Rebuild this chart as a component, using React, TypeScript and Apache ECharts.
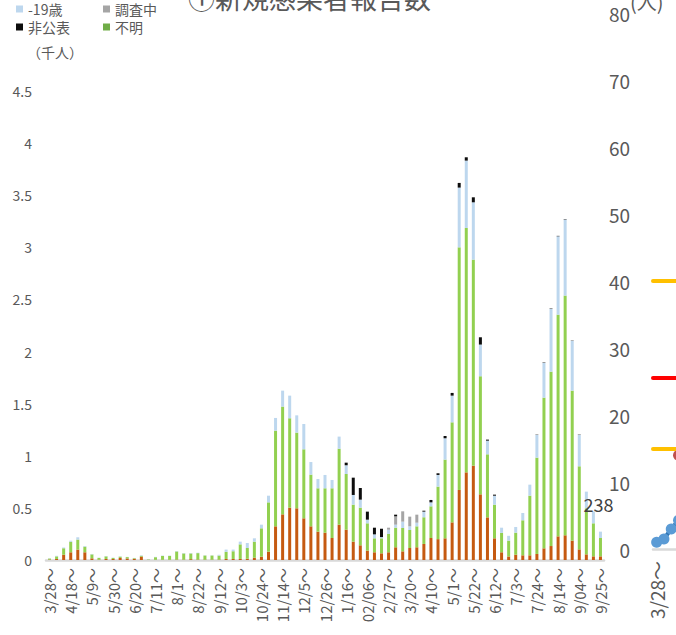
import React, { useEffect, useRef } from "react";
import * as echarts from "echarts";

const weeks = [
  "3/28", "4/4", "4/11", "4/18", "4/25", "5/2", "5/9", "5/16", "5/23", "5/30",
  "6/6", "6/13", "6/20", "6/27", "7/4", "7/11", "7/18", "7/25", "8/1", "8/8",
  "8/15", "8/22", "8/29", "9/5", "9/12", "9/19", "9/26", "10/3", "10/10", "10/17",
  "10/24", "10/31", "11/7", "11/14", "11/21", "11/28", "12/5", "12/12", "12/19", "12/26",
  "1/2", "1/9", "1/16", "1/23", "1/30", "02/06", "2/13", "2/20", "2/27", "3/6",
  "3/13", "3/20", "3/27", "4/3", "4/10", "4/17", "4/24", "5/1", "5/8", "5/15",
  "5/22", "5/29", "6/5", "6/12", "6/19", "6/26", "7/3", "7/10", "7/17", "7/24",
  "7/31", "8/7", "8/14", "8/21", "8/28", "9/04", "9/11", "9/18", "9/25",
];

// 千人 per week
const seniors = [
  0.004, 0.01, 0.05, 0.074, 0.1, 0.074, 0.016, 0.003, 0.01, 0.01,
  0.02, 0.015, 0.012, 0.032, 0.001, 0.002, 0.002, 0.002, 0.004, 0.003,
  0.008, 0.004, 0.003, 0.003, 0.003, 0.01, 0.01, 0.01, 0.012, 0.022,
  0.032, 0.08, 0.323, 0.438, 0.502, 0.496, 0.4, 0.323, 0.272, 0.262,
  0.211, 0.339, 0.291, 0.176, 0.141, 0.09, 0.074, 0.064, 0.074, 0.122,
  0.083, 0.115, 0.122, 0.154, 0.211, 0.2, 0.208, 0.361, 0.672, 0.841,
  0.905, 0.63, 0.409, 0.208, 0.074, 0.034, 0.051, 0.045, 0.045, 0.058,
  0.112, 0.134, 0.227, 0.237, 0.186, 0.102, 0.054, 0.035, 0.035,
];
const adults = [
  0.01, 0.025, 0.062, 0.101, 0.096, 0.054, 0.038, 0.017, 0.025, 0.01,
  0.012, 0.013, 0.006, 0.008, 0.004, 0.025, 0.037, 0.037, 0.078, 0.06,
  0.055, 0.062, 0.04, 0.04, 0.039, 0.068, 0.074, 0.14, 0.103, 0.154,
  0.272, 0.473, 0.918, 1.034, 0.858, 0.726, 0.662, 0.496, 0.416, 0.426,
  0.477, 0.729, 0.534, 0.355, 0.361, 0.262, 0.134, 0.144, 0.176, 0.188,
  0.224, 0.173, 0.201, 0.256, 0.304, 0.504, 0.755, 0.96, 2.328, 2.345,
  1.977, 1.133, 0.605, 0.323, 0.186, 0.152, 0.211, 0.336, 0.572, 0.924,
  1.446, 1.673, 2.127, 2.3, 1.439, 0.797, 0.442, 0.317, 0.176,
];
const under19 = [
  0.002, 0.005, 0.008, 0.01, 0.022, 0.006, 0.004, 0.002, 0.003, 0.002,
  0.003, 0.002, 0.002, 0.005, 0.001, 0.003, 0.003, 0.003, 0.004, 0.004,
  0.004, 0.004, 0.002, 0.002, 0.008, 0.022, 0.016, 0.026, 0.048, 0.032,
  0.035, 0.064, 0.122, 0.153, 0.217, 0.166, 0.243, 0.121, 0.089, 0.128,
  0.08, 0.116, 0.084, 0.093, 0.077, 0.035, 0.038, 0.012, 0.041, 0.029,
  0.061, 0.035, 0.035, 0.054, 0.038, 0.112, 0.205, 0.256, 0.573, 0.646,
  0.55, 0.304, 0.131, 0.086, 0.05, 0.046, 0.055, 0.07, 0.106, 0.218,
  0.333, 0.602, 0.752, 0.729, 0.477, 0.301, 0.16, 0.115, 0.061,
];
const investigating = [
  0, 0, 0, 0, 0, 0, 0, 0, 0, 0,
  0, 0, 0, 0, 0, 0, 0, 0, 0, 0,
  0, 0, 0, 0, 0, 0, 0, 0, 0, 0,
  0, 0, 0, 0, 0, 0, 0, 0, 0, 0,
  0, 0, 0, 0, 0, 0, 0, 0, 0.019, 0.08,
  0.099, 0.093, 0.077, 0, 0, 0, 0, 0, 0, 0,
  0, 0, 0, 0, 0, 0, 0, 0, 0, 0,
  0, 0, 0, 0, 0, 0, 0, 0, 0,
];
const undisclosed = [
  0, 0, 0, 0, 0, 0, 0, 0, 0, 0,
  0, 0, 0, 0, 0, 0, 0, 0, 0, 0,
  0, 0, 0, 0, 0, 0, 0, 0, 0, 0,
  0, 0, 0, 0, 0, 0, 0, 0, 0, 0,
  0, 0, 0.025, 0.166, 0.112, 0.077, 0.064, 0.08, 0, 0.016,
  0, 0, 0, 0.009, 0.023, 0.016, 0.022, 0.026, 0.045, 0.032,
  0.048, 0.07, 0.01, 0.01, 0, 0, 0, 0, 0, 0.003,
  0.004, 0.004, 0.004, 0.004, 0.003, 0.003, 0, 0, 0,
];

// right-hand (partially visible) chart, 人
const rightBlue = [1.0, 1.5, 3.0, 4.3];
const rightRed = [null, null, null, 14];
const thresholdValues = [40, 25.5, 15];
const thresholdColors = ["#FFC000", "#FF0000", "#FFC000"];

const LABEL_INDEX = 77;
const LABEL_TEXT = "238";

export default function App() {
  const ref = useRef<HTMLDivElement>(null);

  useEffect(() => {
    const chart = echarts.init(ref.current!, null, { renderer: "svg" });
    const font = '"Noto Sans CJK JP", "Noto Sans", sans-serif';
    const grey = "#595959";

    const bar = (name: string, data: any[], color: string) => ({
      name,
      type: "bar",
      stack: "total",
      xAxisIndex: 0,
      yAxisIndex: 0,
      barWidth: 3,
      data,
      itemStyle: { color },
    });

    const blueData = under19.map((v, i) =>
      i === LABEL_INDEX
        ? {
            value: v,
            label: {
              show: true,
              position: "top",
              formatter: LABEL_TEXT,
              fontSize: 18,
              color: "#404040",
              offset: [5, 7],
              fontFamily: font,
            },
          }
        : v
    );

    const legendBase = {
      orient: "vertical",
      top: 2,
      padding: 0,
      itemGap: 4,
      itemWidth: 7,
      itemHeight: 7,
      icon: "rect",
      textStyle: { fontSize: 14, color: grey, fontFamily: font },
    };

    chart.setOption({
      animation: false,
      textStyle: { fontFamily: font },
      graphic: [
        {
          type: "text",
          left: 188,
          top: -16,
          style: { text: "①新規感染者報告数", fontSize: 27, fill: grey, fontFamily: font },
        },
        {
          type: "text",
          left: 27,
          top: 45,
          style: { text: "（千人）", fontSize: 14, fill: grey, fontFamily: font },
        },
        {
          type: "text",
          left: 630,
          top: -9,
          style: { text: "(人)", fontSize: 20, fill: grey, fontFamily: font },
        },
      ],
      legend: [
        { ...legendBase, left: 16, data: ["-19歳", "非公表"] },
        { ...legendBase, left: 103, data: ["調査中", "不明"] },
      ],
      grid: [
        { left: 46, top: 91, width: 558, bottom: 75, outerBoundsMode: "none", containLabel: false },
        { left: 653, top: 13, width: 577, bottom: 86, outerBoundsMode: "none", containLabel: false },
      ],
      xAxis: [
        {
          type: "category",
          gridIndex: 0,
          data: weeks,
          axisTick: { show: false },
          axisLine: { lineStyle: { color: "#D9D9D9", width: 2.5 } },
          axisLabel: {
            interval: 2,
            rotate: 90,
            fontSize: 15,
            color: grey,
            margin: 8,
            formatter: (v: string) => v + "〜",
          },
        },
        {
          type: "category",
          gridIndex: 1,
          data: weeks,
          axisTick: { show: false },
          axisLine: { lineStyle: { color: "#D9D9D9", width: 2.5 } },
          axisLabel: {
            interval: 5,
            rotate: 90,
            fontSize: 19,
            color: grey,
            margin: 12,
            formatter: (v: string) => v + "〜",
          },
        },
      ],
      yAxis: [
        {
          type: "value",
          gridIndex: 0,
          min: 0,
          max: 4.5,
          interval: 0.5,
          splitLine: { show: false },
          axisLine: { show: false },
          axisTick: { show: false },
          axisLabel: { fontSize: 14, color: grey, margin: 14 },
        },
        {
          type: "value",
          gridIndex: 1,
          min: 0,
          max: 80,
          interval: 10,
          splitLine: { show: false },
          axisLine: { show: false },
          axisTick: { show: false },
          axisLabel: { fontSize: 19, color: grey, margin: 23 },
        },
      ],
      series: [
        bar("65歳-", seniors, "#C55A11"),
        bar("20-64歳", adults, "#92D050"),
        bar("-19歳", blueData, "#BDD7EE"),
        bar("調査中", investigating, "#A5A5A5"),
        bar("非公表", undisclosed, "#0D0D0D"),
        bar("不明", [], "#70AD47"),
        {
          name: "右青",
          type: "line",
          xAxisIndex: 1,
          yAxisIndex: 1,
          data: rightBlue,
          symbol: "circle",
          symbolSize: 11,
          showAllSymbol: true,
          itemStyle: { color: "#5B9BD5" },
          lineStyle: { color: "#2E75B6", width: 4 },
          markLine: {
            silent: true,
            symbol: "none",
            label: { show: false },
            data: thresholdValues.map((v, i) => ({
              yAxis: v,
              lineStyle: { color: thresholdColors[i], width: 4, type: "solid", cap: "round" },
            })),
          },
        },
        {
          name: "右赤",
          type: "line",
          xAxisIndex: 1,
          yAxisIndex: 1,
          data: rightRed,
          symbol: "circle",
          symbolSize: 11,
          showAllSymbol: true,
          itemStyle: { color: "#C0504D" },
          lineStyle: { width: 0 },
        },
      ],
    });

    return () => chart.dispose();
  }, []);

  return (
    <div
      ref={ref}
      style={{ position: "fixed", left: 0, top: 0, width: 676, height: 635, background: "#fff" }}
    />
  );
}
